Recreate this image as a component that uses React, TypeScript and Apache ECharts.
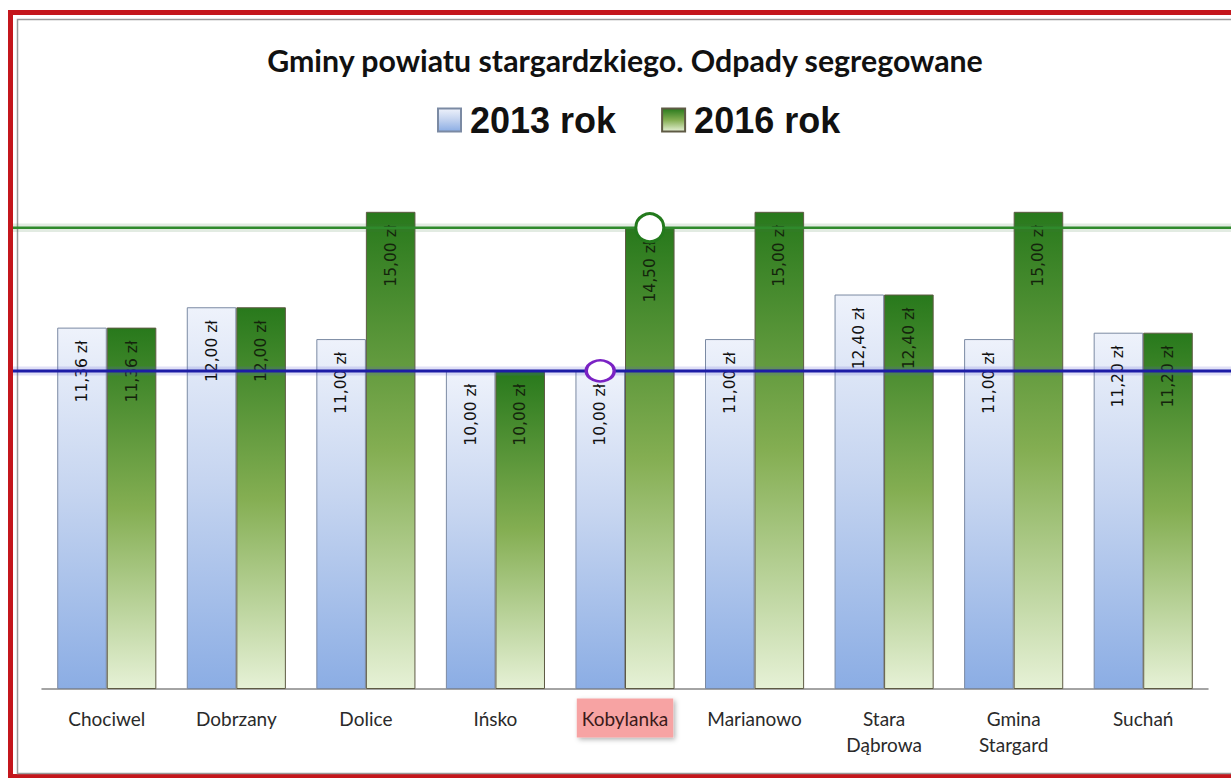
import React, { useEffect, useRef } from "react";
import * as echarts from "echarts";

const categories = ["Chociwel", "Dobrzany", "Dolice", "Ińsko", "Kobylanka", "Marianowo", "Stara\nDąbrowa", "Gmina\nStargard", "Suchań"];
const values2013 = [11.36, 12.0, 11.0, 10.0, 10.0, 11.0, 12.4, 11.0, 11.2];
const values2016 = [11.36, 12.0, 15.0, 10.0, 14.5, 15.0, 12.4, 15.0, 11.2];
const seriesNames = ["2013 rok", "2016 rok"];
const highlightCategory = "Kobylanka";
const line2016Value = 14.5;
const line2013Value = 10.0;

const fmt = (v: number) => v.toFixed(2).replace(".", ",") + " zł";

export default function App() {
  const ref = useRef<HTMLDivElement>(null);
  useEffect(() => {
    if (!ref.current) return;
    const chart = echarts.init(ref.current, null, { renderer: "svg" });
    const blueGrad = new echarts.graphic.LinearGradient(0, 0, 0, 1, [
      { offset: 0, color: "#eef2fb" },
      { offset: 0.45, color: "#c6d5f0" },
      { offset: 1, color: "#8badE4" },
    ]);
    const greenGrad = new echarts.graphic.LinearGradient(0, 0, 0, 1, [
      { offset: 0, color: "#28791c" },
      { offset: 0.5, color: "#84ae52" },
      { offset: 1, color: "#e6f1d6" },
    ]);
    const labelCommon = {
      show: true,
      position: "insideTop",
      rotate: 90,
      align: "right",
      verticalAlign: "middle",
      distance: 13,
      fontFamily: "DejaVu Sans",
      fontSize: 15.5,
      formatter: (p: any) => fmt(p.value),
    };
    const levelLine = (name: string, value: number, color: string, width: number, glow: string) => [
      {
        name: name + " cień",
        type: "line",
        xAxisIndex: 1,
        yAxisIndex: 1,
        showSymbol: false,
        silent: true,
        z: 3,
        data: [[0, value], [1, value]],
        lineStyle: { color: glow, width: width + 6 },
      },
      {
        name,
        type: "line",
        xAxisIndex: 1,
        yAxisIndex: 1,
        showSymbol: false,
        silent: true,
        z: 3,
        data: [[0, value], [1, value]],
        lineStyle: { color, width },
      },
    ];
    chart.setOption({
      animation: false,
      backgroundColor: "#ffffff",
      title: {
        text: "Gminy powiatu stargardzkiego. Odpady segregowane",
        left: 620,
        textAlign: "center",
        top: 40,
        textStyle: { fontFamily: "Lato", fontWeight: "bold", fontSize: 30.3, color: "#111" },
      },
      legend: {
        top: 97,
        left: 432,
        itemWidth: 23,
        itemHeight: 23,
        itemGap: 45,
        icon: "rect",
        textStyle: { fontFamily: "Liberation Sans", fontWeight: "bold", fontSize: 36, color: "#111", padding: [0, 0, 0, 4] },
        data: seriesNames,
      },
      grid: [
        { left: 42, right: 23, top: 180, bottom: 89 },
        { left: 13, right: 0, top: 180, bottom: 89 },
      ],
      xAxis: [
        {
          type: "category",
          gridIndex: 0,
          data: categories,
          axisLine: { lineStyle: { color: "#868686", width: 1.5 } },
          axisTick: { show: false },
          axisLabel: {
            interval: 0,
            margin: 16,
            fontFamily: "Lato",
            fontSize: 19,
            lineHeight: 26,
            color: "#2a2a2a",
            formatter: (v: string) => (v === highlightCategory ? "{hl|" + v + "}" : v),
            rich: {
              hl: {
                fontFamily: "Lato",
                fontSize: 19,
                lineHeight: 26,
                color: "#3a1a1a",
                backgroundColor: "#f7a3a3",
                padding: [10, 5],
                shadowColor: "rgba(0,0,0,0.3)",
                shadowBlur: 5,
                shadowOffsetX: 2,
                shadowOffsetY: 2,
              },
            },
          },
        },
        { type: "value", gridIndex: 1, min: 0, max: 1, show: false },
      ],
      yAxis: [
        { type: "value", gridIndex: 0, min: 0, max: 16, show: false, splitLine: { show: false } },
        { type: "value", gridIndex: 1, min: 0, max: 16, show: false, splitLine: { show: false } },
      ],
      series: [
        {
          name: seriesNames[0],
          type: "bar",
          data: values2013,
          barGap: "0%",
          barCategoryGap: "23.5%",
          itemStyle: { color: blueGrad, borderColor: "#7b8aa3", borderWidth: 1 },
          label: { ...labelCommon, color: "#111" },
          markPoint: {
            symbol: "circle",
            symbolSize: [28, 21],
            z: 10,
            label: { show: false },
            itemStyle: { color: "#ffffff", borderColor: "#7a22c4", borderWidth: 3 },
            data: [{ coord: [highlightCategory, line2013Value] }],
          },
        },
        {
          name: seriesNames[1],
          type: "bar",
          data: values2016,
          barGap: "0%",
          barCategoryGap: "23.5%",
          itemStyle: { color: greenGrad, borderColor: "#5e5a44", borderWidth: 1 },
          label: { ...labelCommon, color: "#14240c" },
          markPoint: {
            symbol: "circle",
            symbolSize: 28,
            z: 10,
            label: { show: false },
            itemStyle: { color: "#ffffff", borderColor: "#237a1c", borderWidth: 3 },
            data: [{ coord: [highlightCategory, line2016Value] }],
          },
        },
        ...levelLine("poziom 2013", line2013Value, "#1c1ca6", 3, "rgba(90,90,210,0.18)"),
        ...levelLine("poziom 2016", line2016Value, "#2f8a2c", 2.5, "rgba(60,120,60,0.15)"),
      ],
      graphic: [
        {
          type: "rect",
          silent: true,
          shape: { x: 10.5, y: 12.5, width: 1260, height: 764 },
          style: { fill: "none", stroke: "#c4161c", lineWidth: 5 },
        },
        {
          type: "rect",
          silent: true,
          shape: { x: 17.5, y: 19.5, width: 1250, height: 754 },
          style: { fill: "none", stroke: "#9a9a9a", lineWidth: 1.5 },
        },
      ],
    });
    return () => chart.dispose();
  }, []);
  return <div ref={ref} style={{ position: "fixed", left: 0, top: 0, width: 1231, height: 778 }} />;
}
